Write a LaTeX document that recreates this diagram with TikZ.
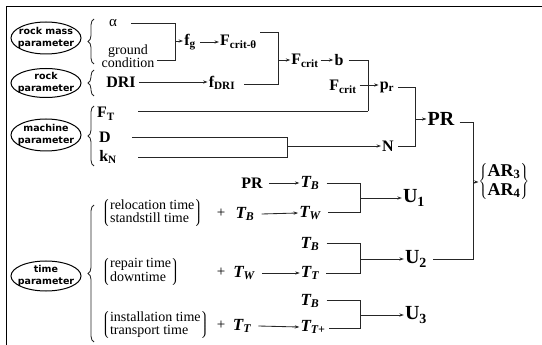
\documentclass[tikz,border=0pt]{standalone}
\usepackage{fontspec}
\setmainfont{Liberation Serif}
\newfontfamily\elfont{DejaVu Sans}
\usetikzlibrary{arrows.meta,decorations.pathreplacing}
\tikzset{
  ln/.style={line width=0.85pt, draw=black!85},
  arr/.style={ln, -{Stealth[length=4.5pt,width=3.2pt]}},
  elline/.style={line width=1pt, draw=black},
  elltxt/.style={inner sep=0pt, align=center, font=\elfont\bfseries\fontsize{9.5}{12}\selectfont},
  bf/.style={font=\fontsize{16}{16}\selectfont\bfseries, inner sep=1pt},
  big/.style={font=\fontsize{20}{20}\selectfont\bfseries, inner sep=1pt},
  tt/.style={font=\fontsize{17}{17}\selectfont\bfseries\itshape, inner sep=1pt},
  txt/.style={font=\fontsize{14}{13}\selectfont, inner sep=0pt},
  pl/.style={font=\fontsize{15}{15}\selectfont, inner sep=1pt},
  br/.style={ln, decorate, decoration={brace, amplitude=6pt}},
}
\begin{document}
\begin{tikzpicture}[x=1pt,y=-1pt]
\useasboundingbox (0,0) rectangle (542,345);
\draw[line width=1pt] (6,345) -- (6,7) -- (542,7);

% ellipses
\node[elltxt] (rm) at (46,38) {rock mass\\parameter};
\draw[elline] (rm.center) ellipse [x radius=35pt, y radius=16pt];
\node[elltxt] (rp) at (46,83) {rock\\parameter};
\draw[elline] (rp.center) ellipse [x radius=35pt, y radius=14.5pt];
\node[elltxt] (mp) at (46,135) {machine\\parameter};
\draw[elline] (mp.center) ellipse [x radius=35pt, y radius=16pt];
\node[elltxt] (tp) at (46,276) {time\\parameter};
\draw[elline] (tp.center) ellipse [x radius=35pt, y radius=15pt];

% braces (drawn upwards so that the tip points to the ellipse)
\draw[br] (94,64) -- (94,19);
\draw[br] (94,96) -- (94,70);
\draw[br] (94,166) -- (94,106);
\draw[br] (94,342) -- (94,205);

% rock mass
\node[font=\fontsize{15}{15}\selectfont, inner sep=1pt] (al) at (113,23) {α};
\node[txt, align=center] (gc) at (128,56) {ground\\condition};
\coordinate (c1t) at (175,23);
\coordinate (c1m) at (175,41);
\coordinate (c1b) at (175,60);
\draw[ln] ([xshift=13pt]al.east) -- (c1t) -- (c1b) -- ([xshift=2pt]gc.east |- c1b);
\node[bf] (fg) at (190,42) {f\textsubscript{g}};
\draw[arr] (c1m) -- (fg.west |- c1m);
\node[bf, anchor=west] (fct) at (219,42) {F\textsubscript{crit-θ}};
\draw[arr] ([xshift=3pt]fg.east) -- (fct.west);

% rock
\node[bf] (dri) at (121,82) {DRI};
\node[bf] (fdri) at (222,83) {f\textsubscript{DRI}};
\draw[arr] ([xshift=2pt]dri.east) -- (fdri.west |- dri.east);
\coordinate (c2t) at (278,32);
\coordinate (c2m) at (278,60);
\coordinate (c2b) at (278,84);
\draw[ln] ([xshift=2pt]fct.east |- c2t) -- (c2t) -- (c2b) -- ([xshift=8pt]fdri.east |- c2b);
\node[bf] (fcrit) at (305,61) {F\textsubscript{crit}};
\draw[arr] (c2m) -- (fcrit.west |- c2m);
\node[bf] (b) at (339,60) {b};
\draw[arr] ([xshift=1pt]fcrit.east |- b) -- (b.west);

\node[bf] (fcrit2) at (343,87) {F\textsubscript{crit}};
\node[bf] (pr) at (387,87) {p\textsubscript{r}};
\coordinate (c3t) at (368,60);
\coordinate (c3m) at (368,85);
\coordinate (c3b) at (368,111);
\draw[ln] ([xshift=4pt]b.east) -- (c3t) -- (c3b);
\draw[ln] ([xshift=2pt]fcrit2.east |- c3m) -- (c3m);
\draw[arr] (c3m) -- (pr.west |- c3m);

% machine
\node[bf] (ft) at (106,114) {F\textsubscript{T}};
\node[bf] (d) at (105,137) {D};
\node[bf] (kn) at (108,157) {k\textsubscript{N}};
\draw[ln] ([xshift=22pt]ft.east |- c3b) -- (c3b);
\node[bf] (n) at (388,146) {N};
\coordinate (c5t) at (287,137);
\coordinate (c5m) at (287,146);
\coordinate (c5b) at (287,157);
\draw[ln] ([xshift=20pt]d.east) -- (c5t) -- (c5b) -- ([xshift=20pt]kn.east);
\draw[arr] (c5m) -- (n.west);

\node[big] (PR) at (441,119) {PR};
\coordinate (c4t) at (415,87);
\coordinate (c4m) at (415,119);
\coordinate (c4b) at (415,146);
\draw[ln] ([xshift=3pt]pr.east |- c4t) -- (c4t) -- (c4b) -- ([xshift=3pt]n.east);
\draw[arr] (c4m) -- (PR.west);

% AR
\node[font=\fontsize{18}{19}\selectfont\bfseries, inner sep=0pt] (ar) at (504,182)
  {$\left\{\begin{tabular}{@{}c@{}}AR\textsubscript{3}\\AR\textsubscript{4}\end{tabular}\right\}$};

% time rows
\node[txt, anchor=west] (rel) at (101,213)
  {$\left\lgroup\begin{tabular}{@{}l@{}}relocation time\\standstill time\end{tabular}\right\rgroup$};
\node[txt, anchor=west] (rep) at (101,272)
  {$\left\lgroup\begin{tabular}{@{}l@{}}repair time\\downtime\end{tabular}\right\rgroup$};
\node[txt, anchor=west] (ins) at (101,325)
  {$\left\lgroup\begin{tabular}{@{}l@{}}installation time\\transport time\end{tabular}\right\rgroup$};
\node[pl] (p1) at (221,213) {+};
\node[pl] (p2) at (221,272) {+};
\node[pl] (p3) at (221,325) {+};
\node[tt] (tbr) at (245,214) {T\textsubscript{B}};
\node[tt] (twr) at (244,273) {T\textsubscript{W}};
\node[tt] (ttr) at (242,326) {T\textsubscript{T}};

\node[font=\fontsize{16}{16}\selectfont\bfseries, inner sep=1pt] (PRb) at (252,183) {PR};
\node[tt] (tb1) at (310,183) {T\textsubscript{B}};
\node[tt] (tw) at (310,213) {T\textsubscript{W}};
\node[tt] (tb2) at (310,244) {T\textsubscript{B}};
\node[tt] (tt2) at (310,273) {T\textsubscript{T}};
\node[tt] (tb3) at (310,301) {T\textsubscript{B}};
\node[tt] (tt3) at (313,327) {T\textsubscript{T+}};

\draw[arr] ([xshift=5pt]PRb.east) -- (tb1.west);
\draw[arr] ([xshift=6pt]tbr.east) -- (tw.west);
\draw[arr] ([xshift=6pt]twr.east) -- (tt2.west);
\draw[arr] ([xshift=6pt]ttr.east) -- (tt3.west);

\node[big] (u1) at (414,198) {U\textsubscript{1}};
\node[big] (u2) at (416,259) {U\textsubscript{2}};
\node[big] (u3) at (416,315) {U\textsubscript{3}};

\coordinate (d1t) at (360,183); \coordinate (d1m) at (360,198); \coordinate (d1b) at (360,212);
\coordinate (d2t) at (360,243); \coordinate (d2m) at (360,259); \coordinate (d2b) at (360,273);
\coordinate (d3t) at (360,300); \coordinate (d3m) at (360,315); \coordinate (d3b) at (360,328);
\draw[ln] ([xshift=6pt]tb1.east |- d1t) -- (d1t) -- (d1b) -- ([xshift=6pt]tw.east |- d1b);
\draw[ln] ([xshift=6pt]tb2.east |- d2t) -- (d2t) -- (d2b) -- ([xshift=6pt]tt2.east |- d2b);
\draw[ln] ([xshift=6pt]tb3.east |- d3t) -- (d3t) -- (d3b) -- ([xshift=2pt]tt3.east |- d3b);
\draw[arr] (d1m) -- (u1.west);
\draw[arr] (d2m) -- (u2.west);
\draw[arr] (d3m) -- (u3.west);

% PR / U2 to AR
\coordinate (c6t) at (473,122);
\coordinate (c6m) at (473,182);
\coordinate (c6b) at (473,259);
\draw[ln] ([xshift=4pt]PR.east |- c6t) -- (c6t) -- (c6b) -- ([xshift=5pt]u2.east);
\draw[arr] (c6m) -- (ar.west);
\end{tikzpicture}
\end{document}
